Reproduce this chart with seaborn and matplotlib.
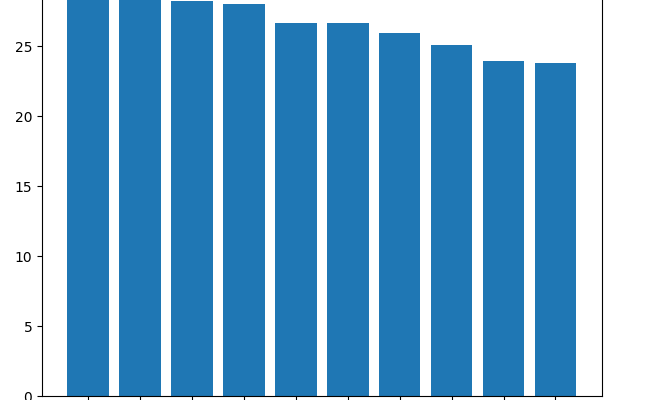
# Bar chart recreation: ten categories in descending order
import matplotlib
matplotlib.use("Agg")
import matplotlib.pyplot as plt
import seaborn as sns
import pandas as pd

# Data (the first two bars run past the top edge)
categories = ["A", "B", "C", "D", "E", "F", "G", "H", "I", "J"]
values = [29.6, 28.9, 28.26, 28.0, 26.64, 26.66, 25.93, 25.07, 23.95, 23.79]

df = pd.DataFrame({"category": categories, "value": values})

fig = plt.figure(figsize=(6.5, 4), dpi=100)
# axes extends above the figure, so the top of the chart is cut off like the reference
ax = fig.add_axes([42 / 650, 3.7 / 400, 559.7 / 650, 31 * 14 / 400])

sns.barplot(data=df, x="category", y="value", color="#1f77b4",
            saturation=1, width=0.8, ax=ax)

ax.set_xlim(-0.89, 9.89)
ax.set_ylim(0, 31)
ax.set_yticks([0, 5, 10, 15, 20, 25, 30])
# category labels sit below the picture's edge in the reference; only tick marks show
ax.tick_params(axis="x", labelbottom=False)
ax.set_xlabel("")
ax.set_ylabel("")

fig.savefig("out.png", dpi=100)
